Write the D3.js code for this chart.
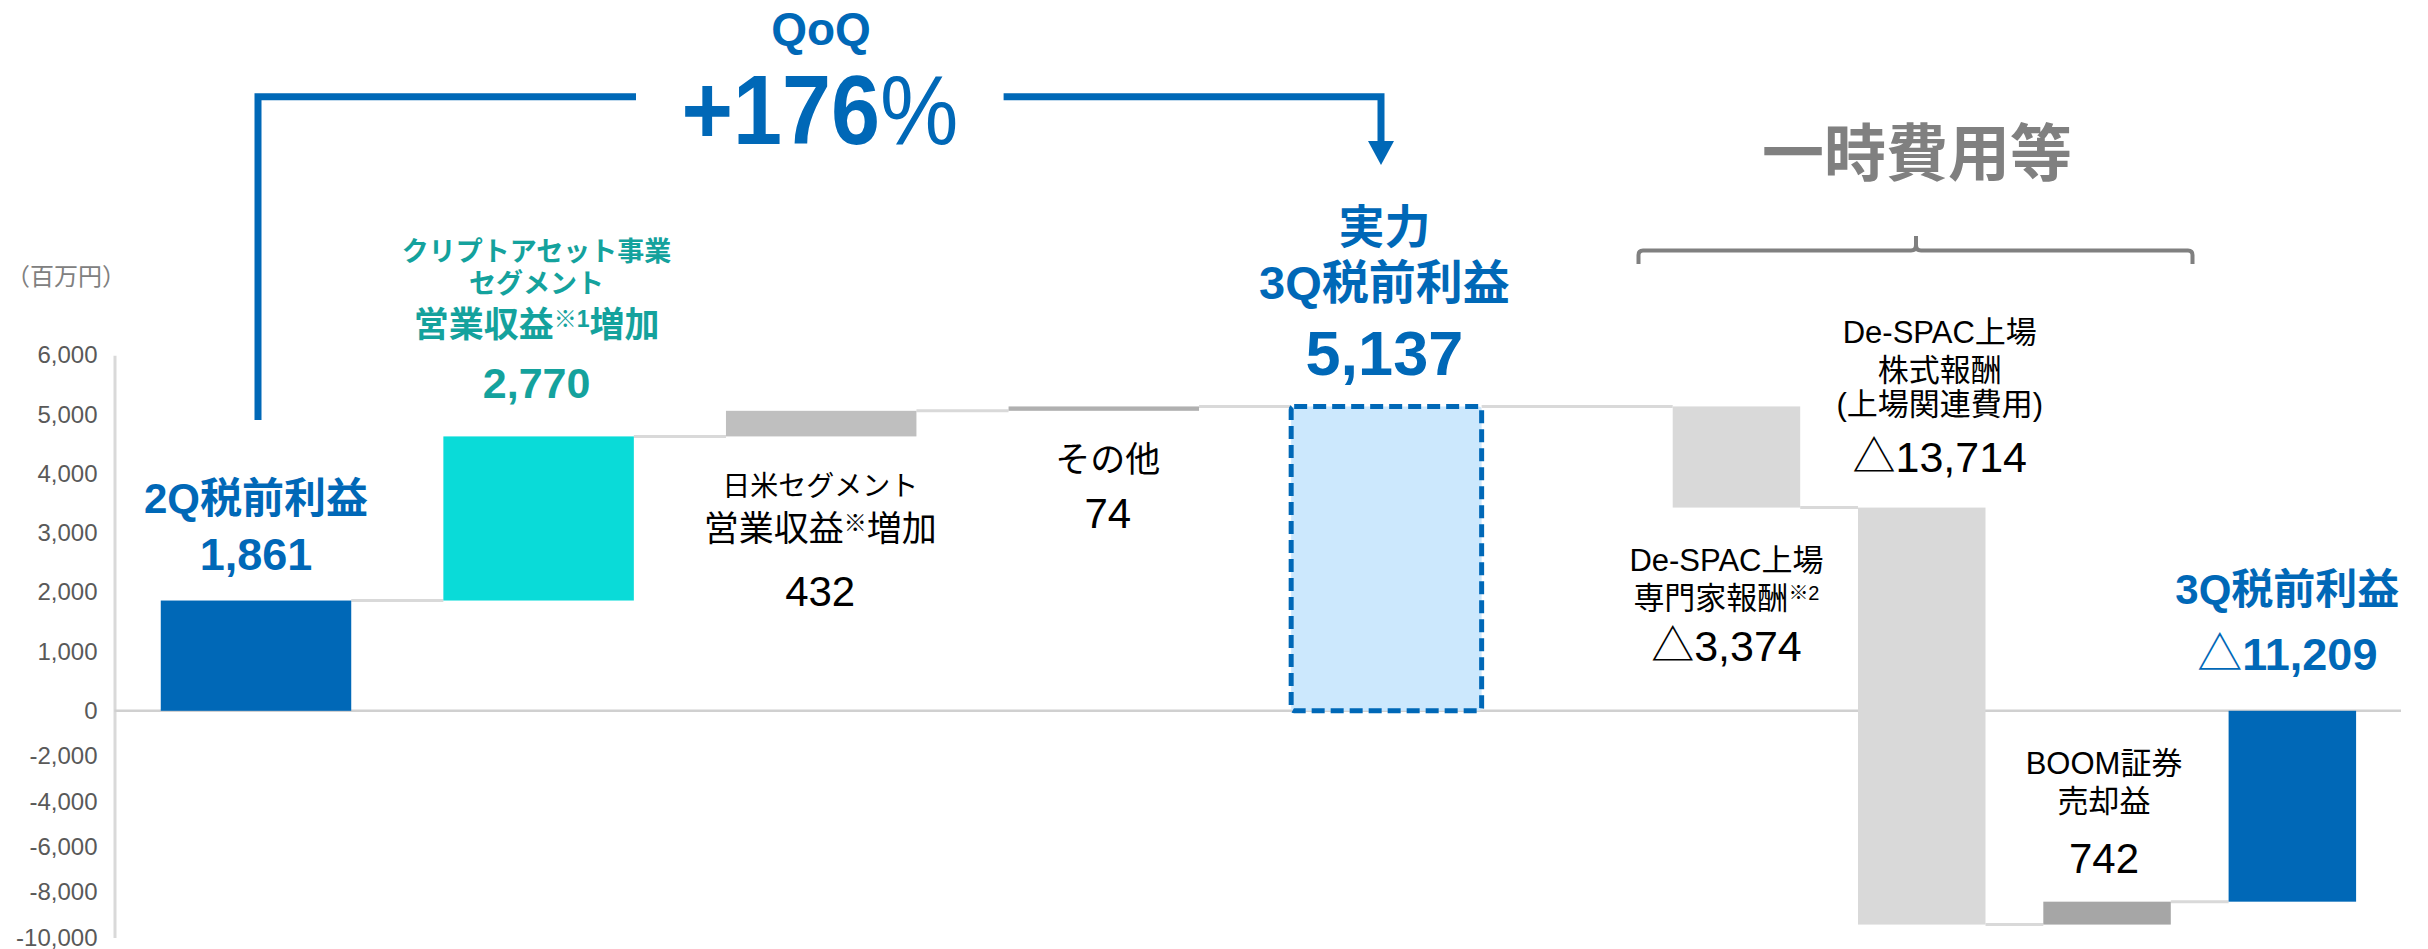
<!DOCTYPE html>
<html>
<head>
<meta charset="utf-8">
<script src="https://cdn.jsdelivr.net/npm/d3@7"></script>
<style>
  html, body { margin: 0; padding: 0; background: #fff; }
  svg { display: block; }
</style>
</head>
<body>
<div id="chart"></div>
<script>
// values (bar ends are in the axis' own units)
const categories = ["2Q税前利益", "クリプトアセット事業", "日米セグメント", "その他", "実力3Q税前利益",
    "De-SPAC専門家報酬", "De-SPAC株式報酬", "BOOM証券売却益", "3Q税前利益"];
const barStart = [0, 1861, 4631, 5063, 0, 5137, 3430, -9430, 0];
const barEnd = [1861, 4631, 5063, 5137, 5137, 3430, -9430, -8420, -8420];
const yTicks = [6000, 5000, 4000, 3000, 2000, 1000, 0, -2000, -4000, -6000, -8000, -10000];
// "^" marks superscript parts
const labelLines = [
    ["2Q税前利益", "1,861"],
    ["クリプトアセット事業", "セグメント", "営業収益^※1^増加", "2,770"],
    ["日米セグメント", "営業収益^※^増加", "432"],
    ["その他", "74"],
    ["実力", "3Q税前利益", "5,137"],
    ["De-SPAC上場", "専門家報酬^※2", "△3,374"],
    ["De-SPAC上場", "株式報酬", "(上場関連費用)", "△13,714"],
    ["BOOM証券", "売却益", "742"],
    ["3Q税前利益", "△11,209"]
];
const qoqTitle = "QoQ";
const qoqValue = "+176";
const groupTitle = "一時費用等";
const unitLabel = "（百万円）";

const FONT = '"Liberation Sans", Arial, "Noto Sans CJK JP", sans-serif';
const BLUE = "#0068b7", TEAL = "#14a29d", GRAY_TXT = "#808080";

const width = 2428, height = 949;

const svg = d3.select("#chart").append("svg")
    .attr("width", width)
    .attr("height", height)
    .style("font-family", FONT);

// the axis is broken: positive side is stretched more than the negative side
const y = d3.scaleLinear().domain([-10000, 0, 6000]).range([937.5, 710.8, 355.3]);

const xLeft = d3.scaleBand().domain(categories.slice(0, 5)).range([114.7, 1527.7])
    .paddingInner(0.326).paddingOuter(0.163);
const xRight = d3.scaleBand().domain(categories.slice(5)).range([1643.8, 2385])
    .paddingInner(0.312).paddingOuter(0.156);
const xOf = c => categories.indexOf(c) < 5 ? xLeft(c) : xRight(c);
const bwOf = c => categories.indexOf(c) < 5 ? xLeft.bandwidth() : xRight.bandwidth();

// axis
const axis = svg.append("g")
    .attr("transform", "translate(114.5,0)")
    .call(d3.axisLeft(y).tickValues(yTicks).tickSize(0).tickSizeOuter(0).tickPadding(17)
        .tickFormat(d => d.toLocaleString("en-US")));
axis.select(".domain").attr("stroke", "#d9d9d9").attr("stroke-width", 3);
axis.selectAll("text").attr("fill", "#595959").style("font-size", "24px").style("font-family", FONT);

svg.append("text")
    .attr("x", 6).attr("y", 285)
    .attr("fill", GRAY_TXT)
    .style("font-size", "24px")
    .text(unitLabel);

// zero line
svg.append("line")
    .attr("x1", 114.5).attr("x2", 2401)
    .attr("y1", y(0)).attr("y2", y(0))
    .attr("stroke", "#d0d0d0").attr("stroke-width", 2.5);

// connectors between bars
categories.slice(0, -1).forEach((c, i) => {
    const next = categories[i + 1];
    svg.append("line")
        .attr("x1", xOf(c) + bwOf(c)).attr("x2", xOf(next))
        .attr("y1", y(barEnd[i])).attr("y2", y(barEnd[i]))
        .attr("stroke", "#d9d9d9").attr("stroke-width", 3);
});

const barFill = ["#0068b7", "#0adbd8", "#bfbfbf", "#b0b0b0", "#cce8fd", "#d9d9d9", "#d9d9d9", "#a6a6a6", "#0068b7"];

categories.forEach((c, i) => {
    const top = Math.min(y(barStart[i]), y(barEnd[i]));
    const h = Math.abs(y(barStart[i]) - y(barEnd[i]));
    const r = svg.append("rect")
        .attr("x", xOf(c))
        .attr("y", top)
        .attr("width", bwOf(c))
        .attr("height", h)
        .attr("fill", barFill[i]);
    if (i === 4) {
        r.attr("stroke", BLUE).attr("stroke-width", 5)
            .attr("stroke-dasharray", "13,6").attr("rx", 3);
    }
});

// labels: baselines, font sizes, weight, colour, x shift
const labelStyle = [
    { ys: [513, 570], sizes: [42, 45], bold: true, color: BLUE, dx: 0 },
    { ys: [261, 293, 337, 398], sizes: [27, 27, 35, 43], bold: true, color: TEAL, dx: -2 },
    { ys: [496, 541, 606], sizes: [28, 35, 42], bold: false, color: "#000", dx: -1 },
    { ys: [472, 528], sizes: [35, 42], bold: false, color: "#000", dx: 4 },
    { ys: [243, 299, 375], sizes: [46, 47, 63], bold: true, color: BLUE, dx: -2 },
    { ys: [571, 609, 661], sizes: [31, 31, 43], bold: false, color: "#000", dx: -10 },
    { ys: [343, 381, 415, 472], sizes: [31, 31, 31, 43], bold: false, color: "#000", dx: 18 },
    { ys: [774, 812, 873], sizes: [31, 31, 42], bold: false, color: "#000", dx: -3 },
    { ys: [604, 670], sizes: [42, 45], bold: true, color: BLUE, dx: -5 }
];

labelLines.forEach((lines, i) => {
    const st = labelStyle[i];
    const c = categories[i];
    const cx = xOf(c) + bwOf(c) / 2 + st.dx;
    lines.forEach((line, j) => {
        const size = st.sizes[j];
        const t = svg.append("text")
            .attr("x", cx).attr("y", st.ys[j])
            .attr("text-anchor", "middle")
            .attr("fill", st.color)
            .style("font-size", size + "px")
            .style("font-weight", st.bold ? 700 : 400);
        let raised = false;
        line.split("^").forEach((part, k) => {
            if (!part) return;
            if (k % 2 === 1) {
                t.append("tspan").attr("dy", -size * 0.3)
                    .style("font-size", Math.round(size * 0.66) + "px").text(part);
                raised = true;
            } else {
                const back = raised ? size * 0.3 : 0;
                raised = false;
                if (part.startsWith("△")) {
                    t.append("tspan").attr("dy", back).style("font-weight", 400).text("△");
                    t.append("tspan").text(part.slice(1));
                } else {
                    t.append("tspan").attr("dy", back).text(part);
                }
            }
        });
    });
});

// QoQ arrow
svg.append("path")
    .attr("d", "M258,420 V96.7 H636 M1003.6,96.7 H1381 V146")
    .attr("fill", "none")
    .attr("stroke", BLUE)
    .attr("stroke-width", 7);
svg.append("path")
    .attr("d", "M1368,141 L1394,141 L1381,165 Z")
    .attr("fill", BLUE);

svg.append("text")
    .attr("x", 821).attr("y", 45)
    .attr("text-anchor", "middle")
    .attr("fill", BLUE)
    .style("font-size", "46px").style("font-weight", 700)
    .text(qoqTitle);

const big = svg.append("text")
    .attr("transform", "translate(820,144) scale(0.89,1)")
    .attr("text-anchor", "middle")
    .attr("fill", BLUE)
    .style("font-size", "99px");
big.append("tspan").style("font-weight", 700).text(qoqValue);
big.append("tspan").style("font-weight", 400).text("%");

// bracket over the one-off items
svg.append("path")
    .attr("d", "M1638.5,264 V255 Q1638.5,250.5 1643,250.5 H1911 Q1916,250.5 1916,245 V236 " +
        "M1916,245 Q1916,250.5 1921,250.5 H2188 Q2192.5,250.5 2192.5,255 V264")
    .attr("fill", "none")
    .attr("stroke", GRAY_TXT)
    .attr("stroke-width", 4);

svg.append("text")
    .attr("x", 1917).attr("y", 176)
    .attr("text-anchor", "middle")
    .attr("fill", GRAY_TXT)
    .style("font-size", "62px").style("font-weight", 700)
    .text(groupTitle);
</script>
</body>
</html>
